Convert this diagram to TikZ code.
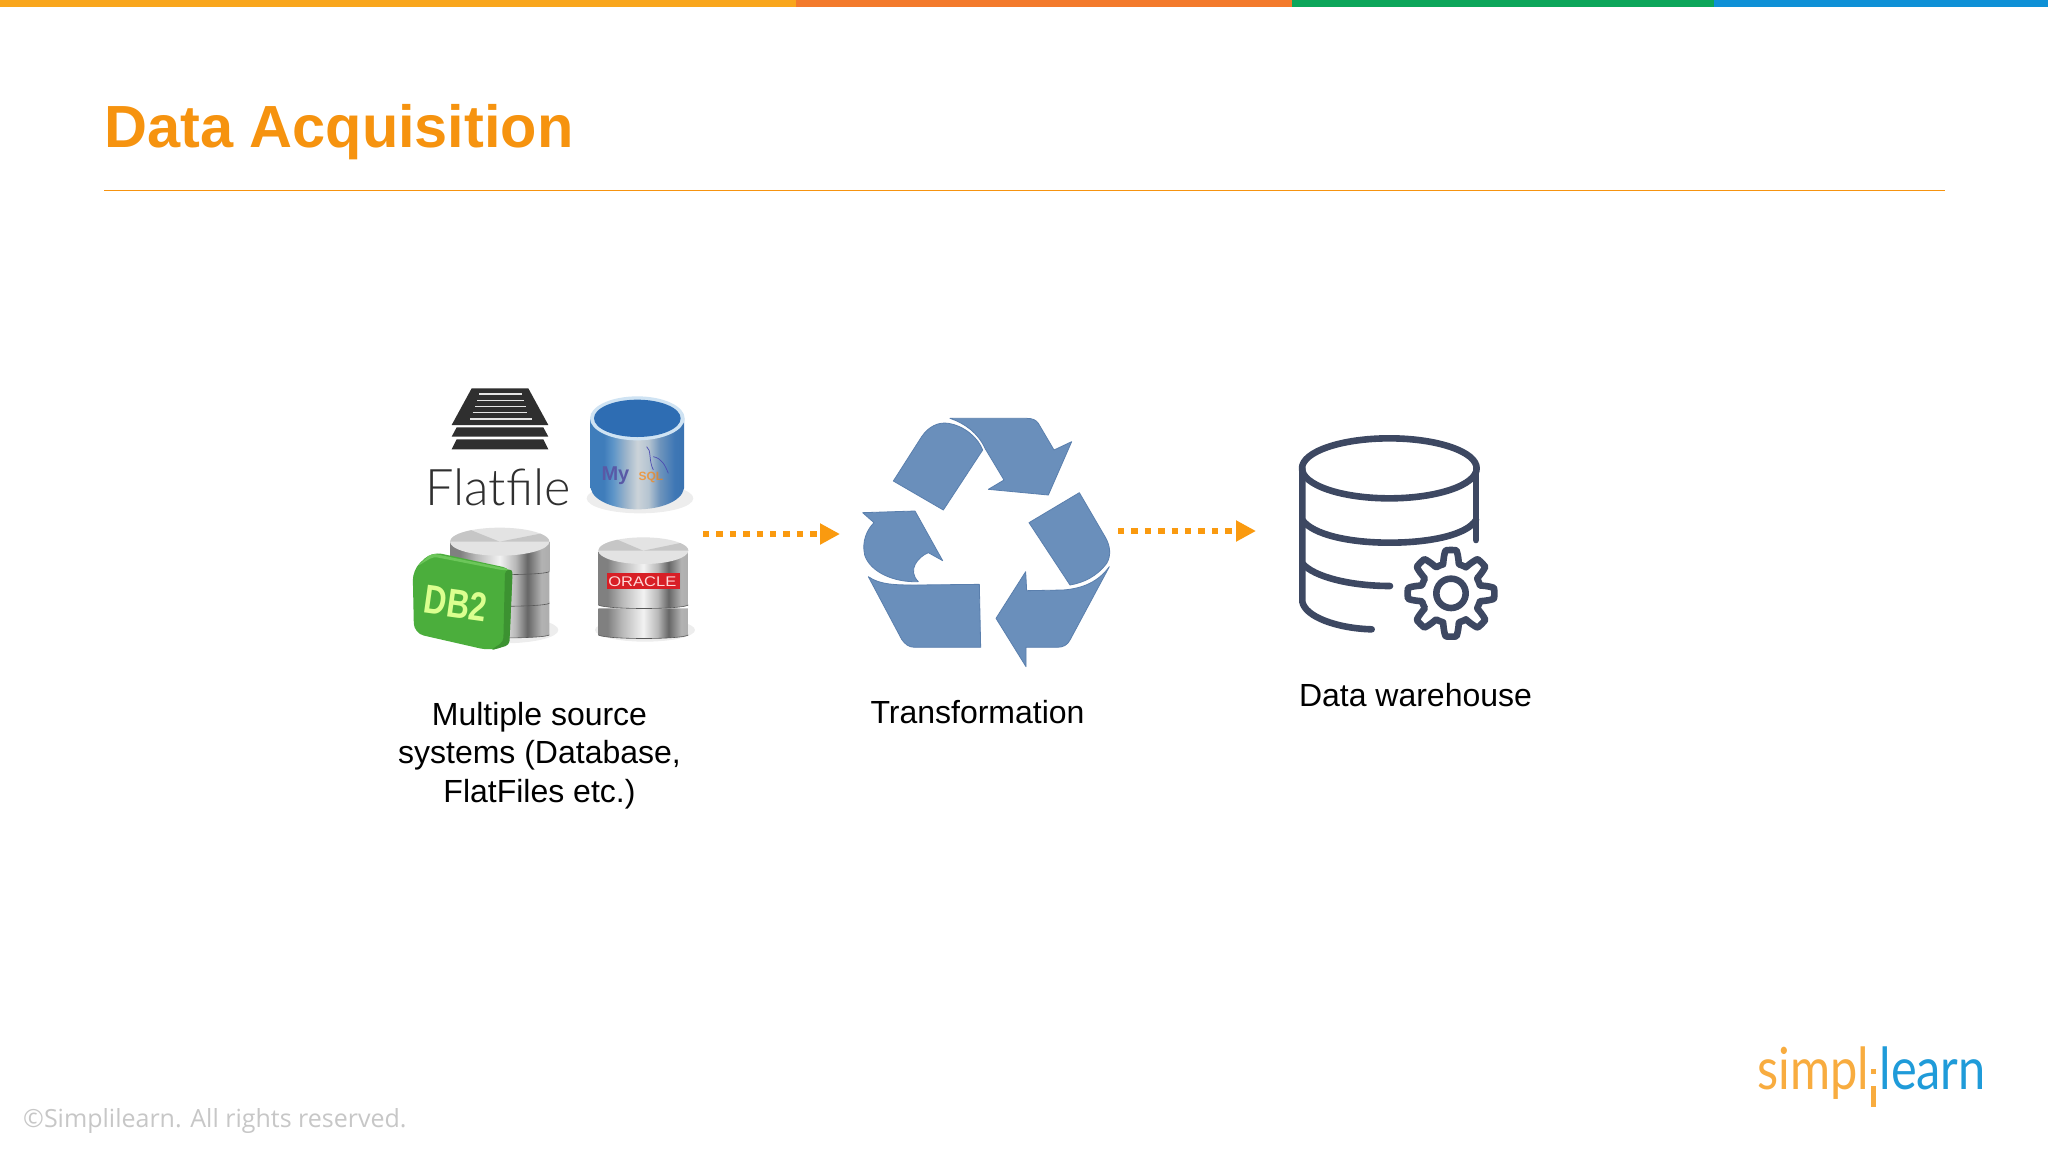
\documentclass[tikz,border=0pt]{standalone}
\usepackage{fontspec}
\setmainfont{Liberation Sans}
\newfontfamily\opensans{Open Sans}
\newfontfamily\latolight{Lato Light}
\newfontfamily\latoreg{Lato}
\usetikzlibrary{arrows.meta}
\definecolor{ttl}{HTML}{F6930F}
\definecolor{dotor}{HTML}{FA9A0F}
\definecolor{barA}{HTML}{F9A61C}
\definecolor{barB}{HTML}{F37A2C}
\definecolor{barC}{HTML}{0CA65A}
\definecolor{barD}{HTML}{0E90D6}
\definecolor{rec}{HTML}{6A8FBB}
\definecolor{recd}{HTML}{5A7FAD}
\definecolor{slate}{HTML}{3D4862}
\definecolor{ffblack}{HTML}{2F2F2F}
\definecolor{simpo}{HTML}{F8AC3F}
\definecolor{simpb}{HTML}{1F9BD9}
\definecolor{grn}{HTML}{4BAE3C}
\definecolor{grnl}{HTML}{6CC65A}
\definecolor{grnd}{HTML}{3C9231}
\definecolor{mA}{HTML}{3F7DBB}\definecolor{mB}{HTML}{5E95C8}\definecolor{mC}{HTML}{9DB5CB}
\definecolor{mD}{HTML}{CBD3D9}\definecolor{mE}{HTML}{B5C4D1}\definecolor{mF}{HTML}{6E94BC}
\definecolor{mG}{HTML}{3E77B5}\definecolor{mH}{HTML}{2A5E9E}
\definecolor{mTop}{HTML}{2E6DB3}\definecolor{mRim}{HTML}{CFE3F3}
\definecolor{orred}{HTML}{D81F26}
\pgfdeclarehorizontalshading{metal}{100bp}{
 color(0bp)=(white!50!black);color(30bp)=(white!50!black);color(38bp)=(white!72!black);color(50bp)=(white!95!black);color(58bp)=(white!72!black);color(64bp)=(white!40!black);color(71bp)=(white!70!black);color(100bp)=(white!55!black)}
\pgfdeclarehorizontalshading{bluemetal}{100bp}{
 color(0bp)=(mA);color(32bp)=(mA);color(37bp)=(mB);color(44bp)=(mC);color(50bp)=(mD);color(56bp)=(mE);color(62bp)=(mF);color(70bp)=(mG);color(100bp)=(mH)}
\tikzset{
 arrowdots/.style={draw=dotor,line width=6.4pt,dash pattern=on 6.4pt off 7pt,-{Triangle[length=20pt,width=20pt,fill=dotor]}},
 lbl/.style={font=\fontsize{32}{38.4}\selectfont,align=center,inner sep=0pt,text=black},
 recpiece/.style={fill=rec,draw=recd,line width=0.8pt,line join=round},
 dbline/.style={draw=slate,line width=6.6pt,line cap=round,line join=round},
 softshadow/.style={fill=black,opacity=.07},
 zoomA/.style={shift={(390pt,-370pt)},x=0.33333pt,y=-0.33333pt},
 zoomB/.style={shift={(850pt,-400pt)},x=0.33333pt,y=-0.33333pt},
 zoomC/.style={shift={(1270pt,-420pt)},x=0.33333pt,y=-0.33333pt},
 zoomD/.style={shift={(1740pt,-1030pt)},x=0.33333pt,y=-0.33333pt},
}
\begin{document}
\begin{tikzpicture}[x=1pt,y=-1pt]
\useasboundingbox (0,0) rectangle (2048,1152);
\fill[white] (0,0) rectangle (2048,1152);
% top bar
\fill[barA] (0,0) rectangle (796,7);
\fill[barB] (796,0) rectangle (1292,7);
\fill[barC] (1292,0) rectangle (1714,7);
\fill[barD] (1714,0) rectangle (2048,7);
% title
\node[anchor=base west,inner sep=0pt,text=ttl,font=\fontsize{59.5}{72}\selectfont\bfseries] (title) at (104,147) {Data Acquisition};
\draw[draw=ttl,line width=1.6pt] (104,190.5) -- (1945,190.5);
% flatfile icon
\begin{scope}[zoomA]
\fill[ffblack] (245,55) -- (415,55) -- (475,165) -- (185,165) -- cycle;
\fill[ffblack] (200,172) -- (460,172) -- (475,200) -- (185,200) -- cycle;
\fill[ffblack] (200,208) -- (460,208) -- (475,238) -- (185,238) -- cycle;
\foreach \ya/\xa/\xb in {72/268/395,91/262/402,110/255/408,128/248/412,147/240/425}
  \draw[white!80!gray,line width=1.2pt] (\xa,\ya) -- (\xb,\ya);
\node[anchor=base west,inner sep=0pt,text=ffblack,font=\latolight\fontsize{50.5}{60}\selectfont] (flat) at (106,405) {Flatfile};
% mysql cylinder
\fill[softshadow] (750,385) ellipse [x radius=160,y radius=45];
\path[shading=bluemetal] (602,145) -- (602,355) .. controls (610,395) and (680,418) .. (742,418) .. controls (810,418) and (875,395) .. (882,355) -- (882,145) -- cycle;
\fill[mRim] (742,145) ellipse [x radius=142,y radius=66];
\fill[mTop] (742,145) ellipse [x radius=130,y radius=56];
\draw[gray!60!blue,line width=0.7pt] (770,230) .. controls (785,240) and (775,270) .. (790,300) (790,260) .. controls (815,265) and (825,285) .. (835,310);
\node[inner sep=0pt,anchor=base west,text=blue!30!gray,font=\fontsize{20}{22}\bfseries\selectfont] (my) at (634,330) {My};
\node[inner sep=0pt,anchor=base west,text=orange,opacity=.65,font=\fontsize{12}{14}\bfseries\selectfont] (sql) at (745,330) {SQL};
% db2 disks
\fill[softshadow] (340,780) ellipse [x radius=165,y radius=40];
\foreach \ya/\yb in {695/795,600/700,515/605}{
 \path[shading=metal] (180,\ya) -- (180,\yb) .. controls (200,\yb+12) and (460,\yb+12) .. (478,\yb) -- (478,\ya) -- cycle;
 \draw[gray!70!black,line width=0.6pt] (180,\yb) .. controls (200,\yb+12) and (460,\yb+12) .. (478,\yb);
}
\fill[white!78!gray] (329,515) ellipse [x radius=149,y radius=42];
\fill[white!55!gray] (329,515) -- (180,515) arc[start angle=180,end angle=235,x radius=149,y radius=42] -- cycle;
\fill[white!55!gray] (329,515) -- (478,515) arc[start angle=0,end angle=-35,x radius=149,y radius=42] -- cycle;
% db2 block
\fill[grn,rounded corners=10pt] (68,600) -- (125,545) -- (368,597) -- (358,825) -- (300,842) -- (72,790) -- cycle;
\fill[grnd,rounded corners=4pt] (345,600) -- (368,597) -- (358,825) -- (300,842) -- (340,815) -- cycle;
\fill[grnl,rounded corners=4pt] (80,590) -- (125,550) -- (360,598) -- (345,602) -- (130,560) -- cycle;
\node[rotate=-8,inner sep=0pt,text=white!80!green!70!yellow,font=\fontsize{30}{36}\bfseries\selectfont] (db2) at (197,700) {\scalebox{1.05}[1.35]{DB2}};
% oracle disks
\fill[softshadow] (765,780) ellipse [x radius=150,y radius=35];
\foreach \ya/\yb in {715/795,545/705}{
 \path[shading=metal] (625,\ya) -- (625,\yb) .. controls (650,\yb+14) and (875,\yb+14) .. (895,\yb) -- (895,\ya) -- cycle;
 \draw[gray!70!black,line width=0.6pt] (625,\yb) .. controls (650,\yb+14) and (875,\yb+14) .. (895,\yb);
}
\fill[white!78!gray] (760,542) ellipse [x radius=135,y radius=40];
\fill[white!55!gray] (760,542) -- (625,542) arc[start angle=180,end angle=235,x radius=135,y radius=40] -- cycle;
\fill[white!55!gray] (760,542) -- (895,542) arc[start angle=0,end angle=-35,x radius=135,y radius=40] -- cycle;
\fill[orred] (650,608) rectangle (870,656);
\node[inner sep=0pt,text=white!85!red,font=\fontsize{14}{16}\selectfont] (oracle) at (757,634) {\scalebox{1.18}[1]{ORACLE}};
\end{scope}
% recycle
\begin{scope}[zoomB]
\path[recpiece] (130,243) -- (215,110) .. controls (235,80) and (265,65) .. (295,70) .. controls (345,78) and (385,115) .. (398,150) -- (280,330) -- cycle;
\path[recpiece] (300,55) -- (530,55) .. controls (548,55) and (558,60) .. (565,70) -- (612,150) -- (665,125) -- (595,285) -- (415,268) -- (462,240) -- (405,145) .. controls (385,100) and (345,70) .. (300,55) -- cycle;
\path[recpiece] (688,278) -- (765,410) .. controls (780,435) and (785,465) .. (770,490) .. controls (740,530) and (700,548) .. (660,555) -- (537,368) -- cycle;
\path[recpiece] (778,500) .. controls (745,545) and (700,565) .. (640,570) -- (530,572) -- (527,515) -- (438,655) -- (528,800) -- (528,742) -- (620,742) .. controls (640,742) and (652,735) .. (660,720) -- cycle;
\path[recpiece] (55,530) .. controls (90,555) and (140,555) .. (200,555) -- (388,553) -- (392,742) -- (195,742) .. controls (175,742) and (165,732) .. (155,718) -- cycle;
\path[recpiece] (38,338) -- (195,333) -- (278,482) -- (235,458) .. controls (205,470) and (170,510) .. (205,545) .. controls (130,548) and (60,515) .. (44,465) .. controls (35,425) and (50,390) .. (72,368) -- cycle;
\end{scope}
% db warehouse
\begin{scope}[zoomC]
\draw[dbline] (358,145) ellipse [x radius=262,y radius=90];
\draw[dbline] (97,145) -- (97,545) .. controls (105,590) and (200,625) .. (305,628);
\draw[dbline] (618,145) -- (618,360);
\draw[dbline] (97,300) .. controls (130,345) and (240,368) .. (358,368) .. controls (480,368) and (590,345) .. (618,300);
\draw[dbline] (97,430) .. controls (130,470) and (240,498) .. (360,498);
\draw[dbline] plot[domain=0:360,samples=240,smooth] ({543+(110+20*max(-1,min(1,1.9*cos(8*\x))))*cos(\x)},{520+(110+20*max(-1,min(1,1.9*cos(8*\x))))*sin(\x)}) -- cycle;
\draw[dbline] (543,520) circle [radius=44];
\end{scope}
% connector anchors
\coordinate (srcout) at (703,534);
\coordinate (tfin) at (840,534);
\coordinate (tfout) at (1118,531);
\coordinate (dwin) at (1256,531);
\draw[arrowdots] (srcout) -- (tfin);
\draw[arrowdots] (tfout) -- (dwin);
% labels
\node[lbl,anchor=base] (srclbl) at (539.5,802) {Multiple source\\systems (Database,\\FlatFiles etc.)};
\node[lbl,anchor=base] (tflbl) at (977.5,723) {Transformation};
\node[lbl,anchor=base] (dwlbl) at (1415.5,706) {Data warehouse};
% footer
\node[anchor=base west,inner sep=0pt,text=black!22,font=\opensans\fontsize{25}{30}\selectfont] (copy) at (23,1127) {©Simplilearn. All rights reserved.};
% logo
\begin{scope}[zoomD]
\node[anchor=base west,inner sep=0pt,text=simpo,font=\latoreg\fontsize{58}{60}\selectfont] (lgA) at (52,178) {\scalebox{.84}[1]{simpl}};
\node[anchor=base west,inner sep=0pt,text=simpb,font=\latoreg\fontsize{58}{60}\selectfont] (lgB) at (418,178) {\scalebox{.84}[1]{learn}};
\fill[simpo] (394,118) rectangle (408,132);
\fill[simpo] (394,168) rectangle (408,232);
\end{scope}
\end{tikzpicture}
\end{document}
